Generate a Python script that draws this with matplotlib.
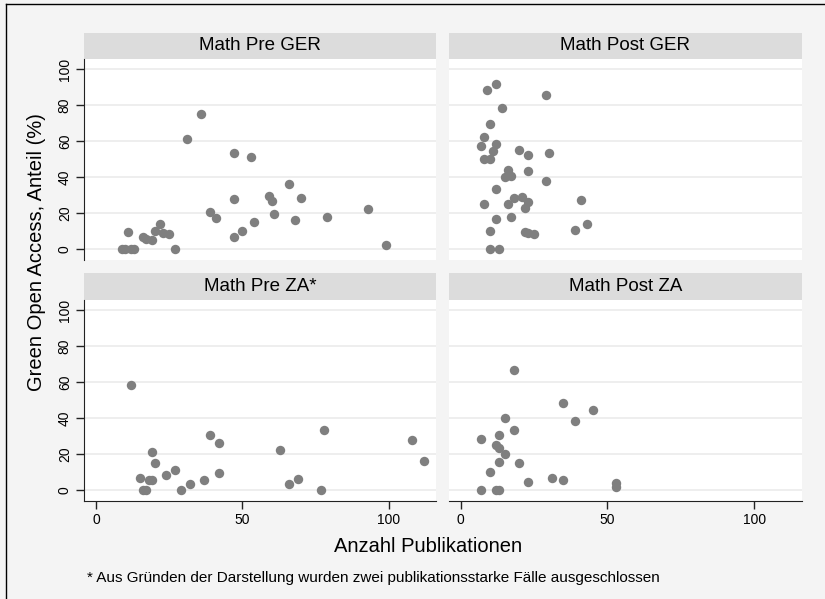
import matplotlib.pyplot as plt
from matplotlib.lines import Line2D

plt.rcParams['font.family'] = ['Liberation Sans', 'DejaVu Sans']

# Daten
pre_ger_x = [9, 10, 11, 12, 13, 16, 17, 19, 20, 22, 23, 25, 27, 31, 36, 39, 41, 47, 47, 47,
             50, 53, 54, 59, 60, 61, 66, 68, 70, 79, 93, 99]
pre_ger_y = [0, 0, 9.1, 0, 0, 6.3, 5.6, 4.8, 10.0, 13.6, 8.6, 8.0, 0, 61.1, 74.9, 20.5, 16.9,
             53.2, 27.5, 6.3, 9.9, 50.9, 14.9, 29.2, 26.6, 19.5, 36.2, 16.2, 28.4, 17.7, 22.3, 2.1]

post_ger_x = [9, 12, 29, 14, 10, 8, 7, 12, 11, 8, 10, 20, 23, 30, 16, 17, 15, 23, 29, 12, 8,
              16, 18, 21, 23, 22, 41, 12, 17, 10, 22, 23, 25, 39, 43, 10, 13]
post_ger_y = [88.6, 91.6, 85.9, 78.4, 69.7, 62.4, 57.1, 58.4, 54.6, 50.0, 50.0, 55.0, 52.1,
              53.2, 43.9, 40.7, 40.1, 43.5, 37.9, 33.3, 25.1, 25.1, 28.1, 29.0, 26.2, 22.7,
              27.0, 16.6, 17.7, 10.0, 9.3, 8.8, 8.0, 10.2, 13.9, 0, 0]

pre_za_x = [12, 15, 16, 17, 18, 19, 19, 20, 24, 27, 29, 32, 37, 39, 42, 42, 63, 66, 69, 78,
            77, 108, 112]
pre_za_y = [58.4, 6.7, 0, 0, 5.6, 5.2, 20.8, 14.9, 8.4, 11.0, 0, 3.0, 5.2, 30.5, 26.0, 9.3,
            22.3, 3.0, 6.0, 33.1, 0, 27.7, 16.0]

post_za_x = [18, 35, 45, 39, 15, 18, 13, 7, 12, 13, 15, 13, 20, 10, 23, 31, 35, 53, 53, 7,
             12, 13]
post_za_y = [66.5, 48.3, 44.4, 38.3, 39.8, 33.3, 30.5, 28.4, 24.9, 23.1, 19.9, 15.3, 15.1,
             10.0, 4.1, 6.5, 5.6, 3.7, 1.5, 0, 0, 0]

titles = ['Math Pre GER', 'Math Post GER', 'Math Pre ZA*', 'Math Post ZA']
yticks = [0, 20, 40, 60, 80, 100]
xticks = [0, 50, 100]

W, H = 825, 599
bg = '#f4f4f4'
fig = plt.figure(figsize=(W / 100, H / 100), dpi=100, facecolor=bg)

def rect(x0, y0, x1, y1):
    # Pixelkoordinaten (von oben) -> Figure-Anteile
    return [x0 / W, 1 - y1 / H, (x1 - x0) / W, (y1 - y0) / H]

cols = [(84.3, 436), (449, 801.7)]
rows = [(32.7, 59.3, 260), (273.3, 300, 501)]
panels = [(pre_ger_x, pre_ger_y), (post_ger_x, post_ger_y),
          (pre_za_x, pre_za_y), (post_za_x, post_za_y)]

for i, (px, py) in enumerate(panels):
    r, c = divmod(i, 2)
    x0, x1 = cols[c]
    s0, y0, y1 = rows[r]

    # Streifen mit Titel
    st = fig.add_axes(rect(x0, s0, x1, y0))
    st.set_facecolor('#dcdcdc')
    st.set_xticks([])
    st.set_yticks([])
    for sp in st.spines.values():
        sp.set_visible(False)
    st.text(0.5, 0.5, titles[i], ha='center', va='center', fontsize=13.5)

    ax = fig.add_axes(rect(x0, y0, x1, y1))
    ax.set_facecolor('white')
    ax.scatter(px, py, s=46, color='#7f7f7f', linewidths=0, zorder=3)
    ax.set_xlim(-4, 116.2)
    ax.set_ylim(-6.3, 105.6)
    ax.set_yticks(yticks)
    ax.set_xticks(xticks)
    ax.grid(axis='y', color='#ebebeb', linewidth=1.2)
    ax.set_axisbelow(True)
    for sp in ['top', 'right']:
        ax.spines[sp].set_visible(False)
    ax.tick_params(length=6, width=1, color='#222222', labelsize=10, pad=3)
    if c == 0:
        ax.spines['left'].set_color('#222222')
        ax.set_yticklabels([str(t) for t in yticks], rotation=90, va='center')
    else:
        ax.spines['left'].set_visible(False)
        ax.tick_params(axis='y', left=False, labelleft=False)
    if r == 1:
        ax.spines['bottom'].set_color('#222222')
        ax.set_xticklabels([str(t) for t in xticks])
    else:
        ax.spines['bottom'].set_visible(False)
        ax.tick_params(axis='x', bottom=False, labelbottom=False)

fig.text(37 / W, 1 - 252 / H, 'Green Open Access, Anteil (%)', rotation=90,
         ha='center', va='center', fontsize=14.5)
fig.text(428 / W, 1 - 547 / H, 'Anzahl Publikationen', ha='center', va='center',
         fontsize=14.5)
fig.text(87 / W, 1 - 578 / H, '* Aus Gründen der Darstellung wurden zwei publikationsstarke Fälle ausgeschlossen',
         ha='left', va='center', fontsize=11)

# Rahmen
fig.add_artist(Line2D([5.5 / W, 5.5 / W], [0, 1 - 3.5 / H], color='black', linewidth=1,
                      transform=fig.transFigure))
fig.add_artist(Line2D([5.5 / W, 1], [1 - 3.5 / H, 1 - 3.5 / H], color='black', linewidth=1,
                      transform=fig.transFigure))

fig.savefig('out.png', dpi=100, facecolor=bg)
